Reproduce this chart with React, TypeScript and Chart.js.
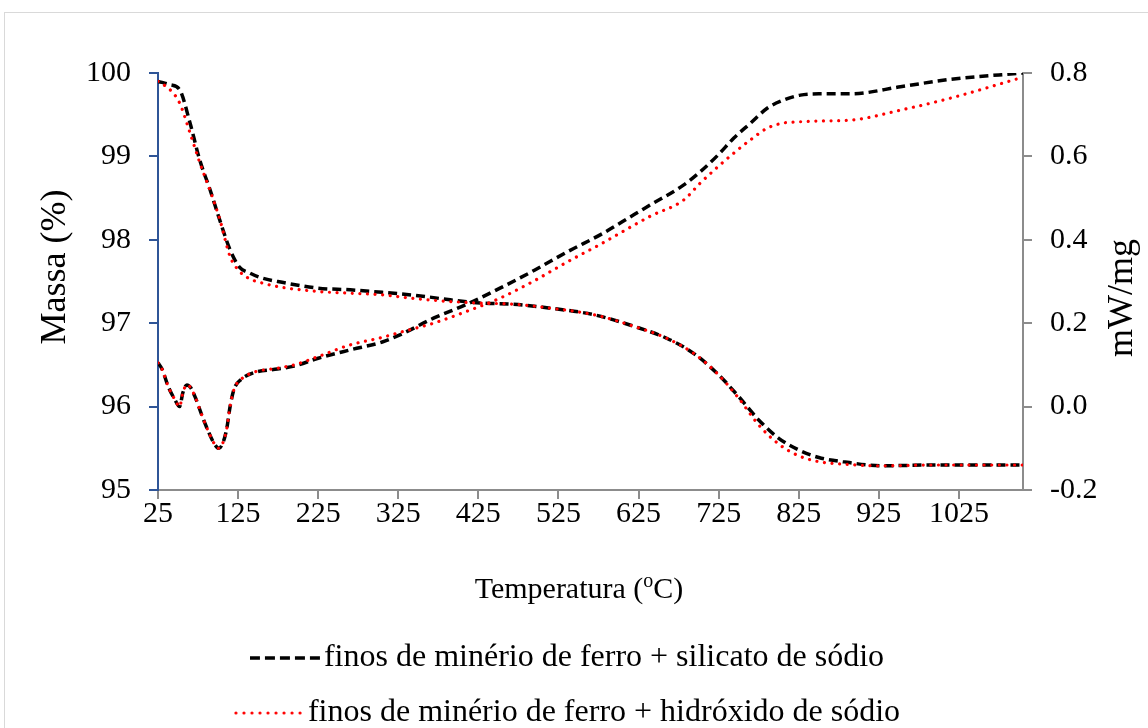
import { useEffect, useRef } from "react";
import { Chart, registerables } from "chart.js";

Chart.register(...registerables);

const FONT = '"Liberation Serif", "Times New Roman", serif';

// Temperature (°C) grid used for the TG (mass) curves
const tgTemps = [25, 40, 52, 65, 77, 90, 102, 115, 127, 140, 152, 180, 225, 265, 305, 350, 390, 430, 465, 515, 570, 620, 660, 695, 725, 750, 775, 800, 825, 850, 880, 930, 990, 1050, 1105];
// Massa (%) – finos de minério de ferro + silicato de sódio
const tgSilicato = [99.9, 99.86, 99.8, 99.4, 98.96, 98.6, 98.24, 97.88, 97.67, 97.6, 97.55, 97.49, 97.42, 97.4, 97.37, 97.33, 97.28, 97.24, 97.23, 97.18, 97.1, 96.96, 96.82, 96.63, 96.38, 96.12, 95.84, 95.62, 95.48, 95.39, 95.34, 95.29, 95.3, 95.3, 95.3];
// Massa (%) – finos de minério de ferro + hidróxido de sódio
const tgHidroxido = [99.9, 99.8, 99.64, 99.28, 98.93, 98.59, 98.25, 97.8, 97.62, 97.53, 97.49, 97.43, 97.38, 97.36, 97.34, 97.29, 97.26, 97.24, 97.23, 97.18, 97.1, 96.96, 96.82, 96.63, 96.38, 96.1, 95.78, 95.55, 95.41, 95.34, 95.31, 95.29, 95.3, 95.3, 95.3];

// Temperature (°C) grid used for the DSC (mW/mg) curves
const dscTemps = [25, 30, 38, 46, 52, 56, 61, 66, 72, 80, 88, 95, 101, 106, 111, 115, 120, 128, 144, 174, 195, 225, 265, 305, 327, 369, 410, 452, 495, 536, 580, 619, 640, 681, 702, 724, 744, 765, 786, 806, 827, 850, 890, 952, 1015, 1105];
// mW/mg – silicato de sódio
const dscSilicato = [0.105, 0.09, 0.047, 0.017, 0.0, 0.033, 0.052, 0.045, 0.02, -0.022, -0.06, -0.088, -0.1, -0.087, -0.051, 0.0, 0.042, 0.064, 0.081, 0.09, 0.097, 0.116, 0.136, 0.155, 0.172, 0.212, 0.245, 0.284, 0.327, 0.371, 0.415, 0.46, 0.484, 0.531, 0.563, 0.603, 0.644, 0.68, 0.716, 0.735, 0.747, 0.75, 0.75, 0.767, 0.785, 0.8];
// mW/mg – hidróxido de sódio
const dscHidroxido = [0.105, 0.09, 0.047, 0.017, 0.0, 0.033, 0.052, 0.045, 0.02, -0.022, -0.06, -0.088, -0.1, -0.087, -0.051, 0.0, 0.042, 0.064, 0.082, 0.092, 0.1, 0.12, 0.148, 0.166, 0.178, 0.2, 0.228, 0.26, 0.302, 0.347, 0.392, 0.435, 0.457, 0.495, 0.536, 0.575, 0.608, 0.64, 0.668, 0.68, 0.683, 0.685, 0.687, 0.711, 0.74, 0.79];

// Tick labels
const xTicks = [25, 125, 225, 325, 425, 525, 625, 725, 825, 925, 1025];
const yTicks = [95, 96, 97, 98, 99, 100];
const y1Ticks = [-0.2, 0, 0.2, 0.4, 0.6, 0.8];

const seriesLabels = [
  "finos de minério de ferro + silicato de sódio",
  "finos de minério de ferro + hidróxido de sódio",
];

const toPts = (xs: number[], ys: number[]) => xs.map((x, i) => ({ x, y: ys[i] }));

const blackStyle = {
  borderColor: "#000000",
  backgroundColor: "#000000",
  borderWidth: 3.5,
  borderDash: [9, 5],
  borderCapStyle: "butt" as const,
  pointRadius: 0,
  cubicInterpolationMode: "monotone" as const,
  fill: false,
  order: 1,
};
const redStyle = {
  borderColor: "#ff0000",
  backgroundColor: "#ff0000",
  borderWidth: 3.2,
  borderDash: [0.01, 7.6],
  borderCapStyle: "round" as const,
  pointRadius: 0,
  cubicInterpolationMode: "monotone" as const,
  fill: false,
  order: 0,
};

function legendSample(color: string, dash: number[], cap: CanvasLineCap, width: number) {
  const c = document.createElement("canvas");
  c.width = 72;
  c.height = 8;
  const g = c.getContext("2d")!;
  g.strokeStyle = color;
  g.lineWidth = width;
  g.lineCap = cap;
  g.setLineDash(dash);
  g.beginPath();
  g.moveTo(cap === "round" ? 2 : 0, 4);
  g.lineTo(72, 4);
  g.stroke();
  return c;
}

export default function App() {
  const ref = useRef<HTMLCanvasElement>(null);

  useEffect(() => {
    document.body.style.margin = "0";
    if (!ref.current) return;

    const blackSample = legendSample("#000000", [10, 5], "butt", 3.5);
    const redSample = legendSample("#ff0000", [0.01, 8], "round", 3.2);

    const decor = {
      id: "decor",
      beforeDraw(chart: any) {
        const ctx = chart.ctx;
        ctx.save();
        ctx.fillStyle = "#ffffff";
        ctx.fillRect(0, 0, chart.width, chart.height);
        ctx.strokeStyle = "#d9d9d9";
        ctx.lineWidth = 1;
        ctx.strokeRect(4.5, 12.5, 1160, 740);
        ctx.restore();
      },
      afterDraw(chart: any) {
        const ctx = chart.ctx;
        ctx.save();
        ctx.fillStyle = "#000000";
        ctx.textAlign = "center";
        ctx.textBaseline = "middle";
        ctx.font = `36px ${FONT}`;
        ctx.save();
        ctx.translate(56, 267);
        ctx.rotate(-Math.PI / 2);
        ctx.fillText("Massa (%)", 0, 0);
        ctx.restore();
        ctx.save();
        ctx.translate(1123, 298);
        ctx.rotate(-Math.PI / 2);
        ctx.fillText("mW/mg", 0, 0);
        ctx.restore();

        // x-axis title with superscript "o"
        const big = `30px ${FONT}`;
        const small = `20px ${FONT}`;
        const p1 = "Temperatura (";
        const p2 = "o";
        const p3 = "C)";
        ctx.textAlign = "left";
        ctx.textBaseline = "alphabetic";
        ctx.font = big;
        const w1 = ctx.measureText(p1).width;
        const w3 = ctx.measureText(p3).width;
        ctx.font = small;
        const w2 = ctx.measureText(p2).width;
        const cx = 579;
        const base = 598;
        let x = cx - (w1 + w2 + w3) / 2;
        ctx.font = big;
        ctx.fillText(p1, x, base);
        x += w1;
        ctx.font = small;
        ctx.fillText(p2, x, base - 11);
        x += w2;
        ctx.font = big;
        ctx.fillText(p3, x, base);
        ctx.restore();
      },
    };

    const chart = new Chart(ref.current, {
      type: "line",
      data: {
        datasets: [
          { ...blackStyle, label: seriesLabels[0], data: toPts(tgTemps, tgSilicato), yAxisID: "y" },
          { ...redStyle, label: seriesLabels[1], data: toPts(tgTemps, tgHidroxido), yAxisID: "y" },
          { ...blackStyle, label: seriesLabels[0] + " DSC", data: toPts(dscTemps, dscSilicato), yAxisID: "y1" },
          { ...redStyle, label: seriesLabels[1] + " DSC", data: toPts(dscTemps, dscHidroxido), yAxisID: "y1" },
        ],
      },
      options: {
        responsive: false,
        animation: false,
        layout: { padding: { top: 73, left: 0, right: 0, bottom: 0 } },
        plugins: {
          tooltip: { enabled: false },
          legend: {
            display: true,
            position: "bottom",
            labels: {
              usePointStyle: true,
              pointStyleWidth: 44,
              padding: 23,
              color: "#000000",
              font: { family: FONT, size: 32 },
              generateLabels: (c: any) => {
                const items = (Chart.defaults.plugins.legend.labels as any).generateLabels(c);
                return items.map((it: any) => ({
                  ...it,
                  pointStyle: it.datasetIndex === 0 ? blackSample : it.datasetIndex === 1 ? redSample : it.pointStyle,
                }));
              },
              filter: (item: any) => item.datasetIndex < 2,
              sort: (a: any, b: any) => a.datasetIndex - b.datasetIndex,
            },
          },
        },
        scales: {
          x: {
            type: "linear",
            position: "bottom",
            min: 25,
            max: 1105,
            afterBuildTicks: (s: any) => {
              s.ticks = xTicks.map((v) => ({ value: v }));
            },
            afterFit: (s: any) => {
              s.height = 129;
            },
            ticks: {
              color: "#000000",
              font: { family: FONT, size: 30 },
              padding: -3,
              maxRotation: 0,
              autoSkip: false,
              callback: (v: any) => String(v),
            },
            grid: { drawOnChartArea: false, drawTicks: true, tickLength: 9, color: "#8c8c8c", lineWidth: 2 },
            border: { display: true, color: "#8c8c8c", width: 2 },
          },
          y: {
            type: "linear",
            position: "left",
            min: 95,
            max: 100,
            afterBuildTicks: (s: any) => {
              s.ticks = yTicks.map((v) => ({ value: v }));
            },
            afterFit: (s: any) => {
              s.width = 158;
            },
            ticks: {
              color: "#000000",
              font: { family: FONT, size: 30 },
              padding: 18,
              callback: (v: any) => String(v),
            },
            grid: { drawOnChartArea: false, drawTicks: true, tickLength: 9, color: "#2f5597", lineWidth: 2 },
            border: { display: true, color: "#2f5597", width: 2 },
          },
          y1: {
            type: "linear",
            position: "right",
            min: -0.2,
            max: 0.8,
            afterBuildTicks: (s: any) => {
              s.ticks = y1Ticks.map((v) => ({ value: v }));
            },
            afterFit: (s: any) => {
              s.width = 125;
            },
            ticks: {
              color: "#000000",
              font: { family: FONT, size: 30 },
              padding: 18,
              callback: (v: any) => Number(v).toFixed(1),
            },
            grid: { drawOnChartArea: false, drawTicks: true, tickLength: 9, color: "#8c8c8c", lineWidth: 2 },
            border: { display: true, color: "#8c8c8c", width: 2 },
          },
        },
      },
      plugins: [decor],
    });

    return () => chart.destroy();
  }, []);

  return (
    <div style={{ width: 1148, height: 728, overflow: "hidden", position: "relative" }}>
      <canvas ref={ref} width={1148} height={739} style={{ display: "block" }} />
    </div>
  );
}
